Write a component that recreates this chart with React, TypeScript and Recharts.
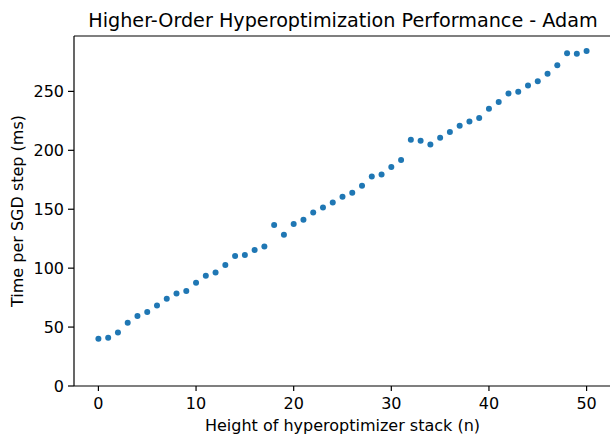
import { ScatterChart, Scatter, XAxis, YAxis, ReferenceLine } from "recharts";

const stackHeights = [
  0, 1, 2, 3, 4, 5, 6, 7, 8, 9, 10, 11, 12, 13, 14, 15, 16, 17, 18, 19, 20, 21, 22, 23, 24, 25,
  26, 27, 28, 29, 30, 31, 32, 33, 34, 35, 36, 37, 38, 39, 40, 41, 42, 43, 44, 45, 46, 47, 48,
  49, 50,
];

const stepTimes = [
  40.1, 40.9, 45.4, 53.6, 59.3, 62.7, 68.3, 74.0, 78.5, 80.6, 87.6, 93.5, 96.3, 102.6, 110.3,
  111.1, 115.5, 118.4, 136.6, 128.4, 137.4, 141.1, 147.3, 151.5, 155.8, 160.6, 164.0, 170.0,
  177.8, 179.5, 185.8, 191.8, 209.0, 208.1, 205.0, 210.7, 215.6, 220.9, 224.5, 227.4, 235.3,
  241.0, 248.3, 249.7, 255.1, 258.5, 265.0, 272.1, 282.3, 282.0, 284.3,
];

const xTicks = [0, 10, 20, 30, 40, 50];
const yTicks = [0, 50, 100, 150, 200, 250];

const data = stackHeights.map((n, i) => ({ n, t: stepTimes[i] }));

const FONT = "'DejaVu Sans', sans-serif";
const tickStyle = { fontSize: 16, fill: "#000", fontFamily: FONT };

// matplotlib-ish dot
const Dot = (props: any) => <circle cx={props.cx} cy={props.cy} r={3} fill="#1f77b4" />;

const YLabel = (props: any) => {
  const { viewBox } = props;
  const cy = viewBox.y + viewBox.height / 2;
  return (
    <text
      x={23}
      y={cy}
      transform={`rotate(-90, 23, ${cy})`}
      textAnchor="middle"
      fontSize={16}
      fontFamily={FONT}
      fill="#000"
    >
      Time per SGD step (ms)
    </text>
  );
};

export default function App() {
  return (
    <div style={{ position: "fixed", left: 0, top: 0, width: 610, height: 434, overflow: "hidden", background: "#fff" }}>
      <svg width={610} height={40} style={{ position: "absolute", left: 0, top: 0 }}>
        <text x={343} y={26.7} textAnchor="middle" fontSize={19.2} fontFamily={FONT} fill="#000">
          Higher-Order Hyperoptimization Performance - Adam
        </text>
      </svg>
      <ScatterChart width={611} height={434} margin={{ top: 36, right: 0, bottom: 0, left: 0 }}>
        <XAxis
          type="number"
          dataKey="n"
          domain={[-2.5, 52.5]}
          ticks={xTicks}
          allowDataOverflow
          height={48}
          tick={tickStyle}
          tickSize={5}
          tickMargin={7}
          axisLine={{ stroke: "#000", strokeWidth: 1.2 }}
          tickLine={{ stroke: "#000", strokeWidth: 1.2 }}
          label={{
            value: "Height of hyperoptimizer stack (n)",
            position: "insideBottom",
            offset: 3,
            fontSize: 16,
            fontFamily: FONT,
            fill: "#000",
          }}
        />
        <YAxis
          type="number"
          dataKey="t"
          domain={[0, 297]}
          ticks={yTicks}
          allowDataOverflow
          width={74}
          tick={tickStyle}
          tickSize={6}
          tickMargin={4}
          axisLine={{ stroke: "#000", strokeWidth: 1.2 }}
          tickLine={{ stroke: "#000", strokeWidth: 1.2 }}
          label={<YLabel />}
        />
        <ReferenceLine y={297} stroke="#000" strokeWidth={1.2} />
        <ReferenceLine x={52.5} stroke="#000" strokeWidth={1.2} />
        <Scatter data={data} shape={Dot} isAnimationActive={false} />
      </ScatterChart>
    </div>
  );
}
